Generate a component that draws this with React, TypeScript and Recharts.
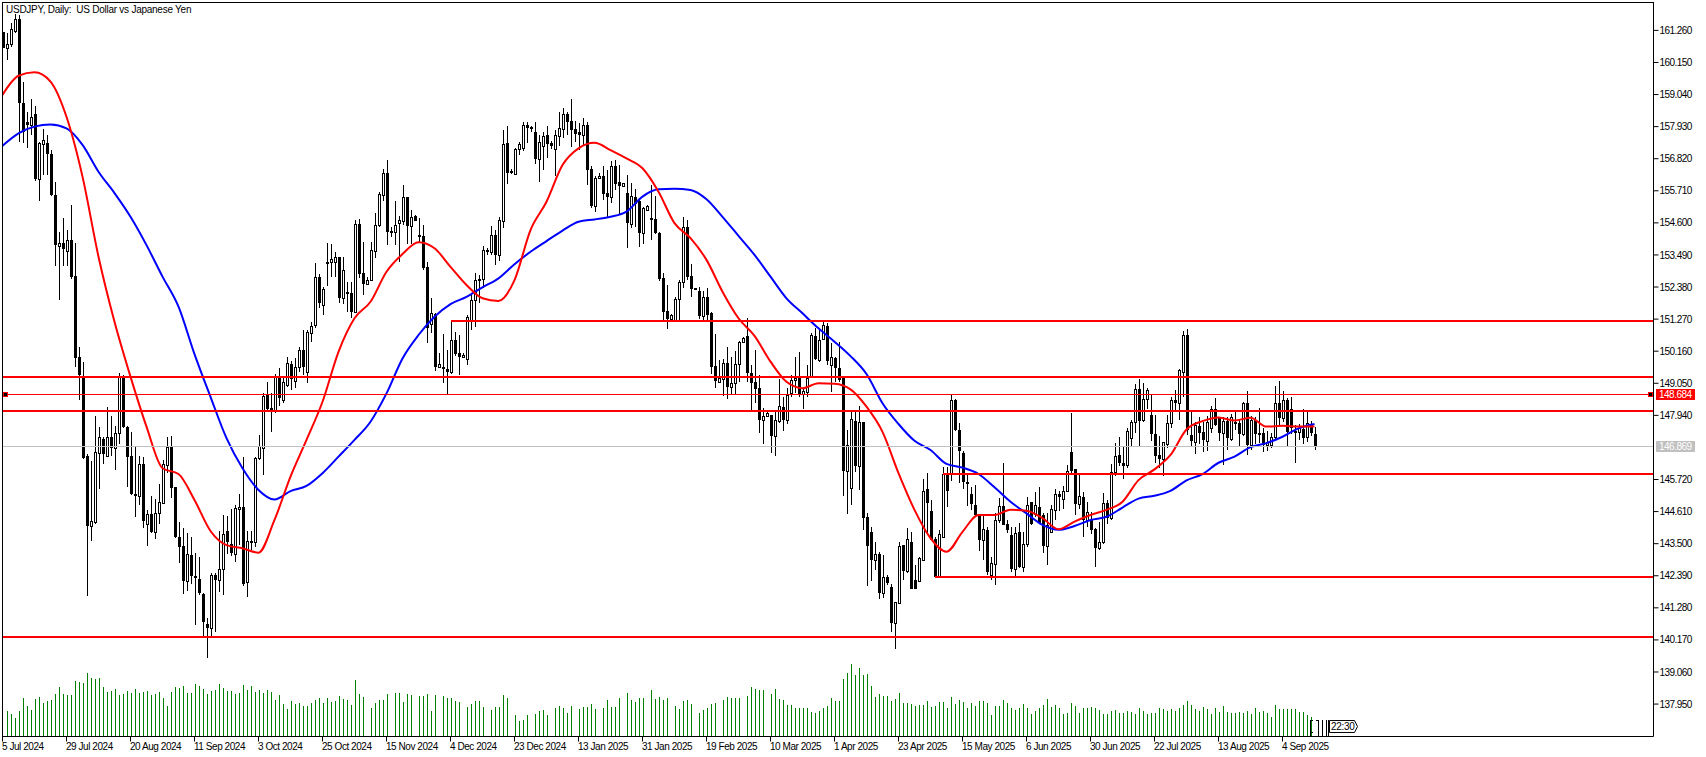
import { Bar, ComposedChart, Line, ReferenceLine, XAxis, YAxis } from "recharts";

const tickLabels = [
  "5 Jul 2024", "29 Jul 2024", "20 Aug 2024", "11 Sep 2024", "3 Oct 2024", "25 Oct 2024", "15 Nov 2024",
  "4 Dec 2024", "23 Dec 2024", "13 Jan 2025", "31 Jan 2025", "19 Feb 2025", "10 Mar 2025", "1 Apr 2025",
  "23 Apr 2025", "15 May 2025", "6 Jun 2025", "30 Jun 2025", "22 Jul 2025", "13 Aug 2025", "4 Sep 2025",
];
const BARS_PER_LABEL = 16;
const SLOTS = 413; // chart leaves room on the right of the last candle

const priceTicks = [
  161.26, 160.15, 159.04, 157.93, 156.82, 155.71, 154.6, 153.49, 152.38, 151.27, 150.16, 149.05, 147.94,
  145.72, 144.61, 143.5, 142.39, 141.28, 140.17, 139.06, 137.95,
];

const opens = [
  161.19,160.66,160.78,161.25,161.64,158.74,158.09,157.99,158.36,156.13,
  157.34,157.35,157.00,155.55,153.81,153.89,153.64,154.01,152.76,149.95,
  149.30,146.53,144.12,144.26,146.65,147.11,146.55,147.18,146.80,147.32,
  149.25,147.55,146.52,145.22,145.14,146.24,144.17,144.53,143.89,144.57,
  144.90,146.23,146.83,145.45,143.72,143.42,142.22,143.11,142.38,142.27,
  141.75,140.72,140.57,142.40,142.24,142.61,143.94,143.48,143.14,144.71,
  144.76,142.18,143.58,143.55,146.45,146.81,148.68,148.18,148.13,149.25,
  148.47,148.99,149.70,149.14,149.62,150.20,149.45,150.80,151.05,152.72,
  151.76,153.20,153.26,153.26,153.41,152.01,152.22,152.16,151.53,154.56,
  152.85,152.49,152.62,153.64,154.54,155.57,156.34,154.33,154.30,154.58,
  154.68,155.48,154.50,154.84,154.18,154.15,153.09,151.10,151.44,149.62,
  149.60,149.53,149.44,150.55,150.09,149.95,149.90,151.24,151.93,152.65,
  152.66,153.65,153.60,154.18,153.49,154.68,157.35,156.38,156.29,157.16,
  157.20,157.99,157.90,157.73,156.81,157.27,157.64,157.35,157.16,157.62,
  157.86,158.37,158.13,157.84,157.74,157.64,157.99,156.46,155.18,156.14,
  156.22,155.62,155.51,156.57,156.00,155.88,155.62,154.57,155.51,155.37,
  154.26,155.05,154.76,154.72,154.26,152.68,151.55,151.26,151.22,151.95,
  152.57,154.44,152.76,152.33,152.25,151.38,152.02,151.47,149.65,149.10,
  149.19,149.74,148.93,149.05,149.71,150.49,150.69,149.42,149.08,148.87,
  147.78,147.93,147.95,147.24,147.76,148.22,147.78,148.73,149.16,149.24,
  148.68,148.76,149.30,150.68,149.85,150.57,151.03,149.68,149.91,149.57,
  149.26,146.03,145.42,147.75,146.19,147.70,144.41,143.91,142.94,143.14,
  141.78,142.34,142.01,140.77,141.46,143.46,142.57,143.55,142.24,142.21,
  142.94,145.39,144.63,143.67,142.39,143.74,145.90,145.90,148.47,147.43,
  146.63,145.63,145.21,144.84,144.49,143.63,143.97,142.42,142.80,144.32,
  144.80,144.18,143.79,142.64,143.89,142.71,143.48,144.93,144.52,144.78,
  144.49,143.43,143.92,144.67,145.21,145.06,145.33,146.66,146.08,144.87,
  145.13,144.32,144.32,144.01,143.36,143.57,144.92,144.38,145.99,146.57,
  146.30,146.22,147.15,147.72,148.84,147.78,148.52,147.95,147.29,146.57,
  146.44,146.95,147.66,148.47,148.38,149.45,150.71,147.26,147.03,147.57,
  147.36,147.06,147.49,148.15,147.84,147.32,147.76,147.13,147.72,147.66,
  147.29,148.36,146.91,147.78,147.33,147.32,146.91,146.91,147.18,148.36,
  147.84,148.46,148.15,147.40,147.38,147.46,147.20,147.60,147.28,
];

const highs = [
  161.22,161.16,161.53,161.83,161.79,159.46,158.43,158.87,158.64,157.41,
  157.86,157.64,157.12,156.01,154.30,154.76,154.35,155.22,153.89,150.32,
  149.77,146.60,146.36,147.92,147.55,147.18,148.22,147.92,147.57,149.42,
  149.34,147.57,147.35,146.88,146.53,146.49,144.67,145.16,145.05,145.56,
  146.40,147.18,147.23,145.47,144.25,144.03,143.86,143.72,143.17,143.03,
  141.78,140.92,142.47,142.47,143.95,144.49,144.46,144.69,144.84,145.22,
  146.51,143.93,143.93,146.51,147.26,148.70,149.10,148.70,149.37,149.57,
  149.24,149.97,149.83,149.91,150.32,150.89,150.89,151.18,153.20,152.83,
  152.39,153.89,153.87,153.60,153.43,153.41,152.57,152.54,154.70,154.73,
  153.95,152.74,153.95,154.93,155.68,156.45,156.78,154.47,155.36,154.84,
  155.90,155.51,155.05,154.87,154.76,154.53,153.24,152.00,151.47,150.09,
  150.75,150.20,151.22,150.84,150.72,150.09,151.41,152.16,152.88,152.80,
  153.80,153.72,154.49,154.35,154.79,157.81,157.95,156.45,157.18,157.41,
  158.08,158.08,157.96,158.08,157.64,157.73,157.95,157.43,157.81,158.42,
  158.59,158.45,158.89,158.13,158.04,158.24,158.10,156.57,156.22,156.31,
  156.57,156.43,156.75,156.78,156.60,155.99,156.26,155.97,155.77,155.39,
  155.16,155.22,155.91,155.54,154.30,152.88,152.45,151.43,152.05,152.62,
  154.81,154.70,153.17,152.33,152.39,152.24,152.33,151.53,150.75,149.85,
  149.88,150.32,149.97,150.18,150.52,150.66,151.30,149.68,150.20,149.34,
  148.18,148.12,147.95,148.07,149.19,148.59,148.88,149.34,149.97,150.14,
  148.88,149.68,150.78,150.95,150.89,151.18,151.15,150.43,149.97,150.49,
  149.26,147.43,148.12,148.12,148.28,147.72,144.57,144.07,143.57,143.22,
  143.11,142.42,142.11,141.49,143.57,143.46,144.03,143.89,142.76,143.03,
  145.73,145.93,145.01,143.74,143.97,146.17,146.17,148.64,148.50,147.66,
  146.71,145.93,145.45,145.53,144.53,144.52,144.09,143.05,144.55,145.07,
  146.28,144.32,144.09,144.09,144.23,143.92,145.13,144.95,145.30,145.45,
  144.55,144.55,144.84,145.38,145.33,145.50,146.22,148.01,146.08,145.88,
  145.30,144.95,144.61,144.03,144.26,145.24,145.01,146.25,146.97,147.18,
  146.86,147.49,147.78,149.02,149.19,149.07,148.87,148.68,147.95,147.23,
  147.03,147.95,148.56,148.82,149.53,150.86,150.93,148.07,147.72,147.87,
  147.72,147.92,148.26,148.53,147.90,147.87,147.87,147.99,148.07,147.78,
  148.41,148.78,147.92,147.87,148.18,147.49,147.41,147.32,148.96,149.13,
  148.78,148.53,148.56,147.60,147.64,148.16,148.07,147.76,147.55,
];

const lows = [
  160.66,160.24,160.70,161.18,157.41,157.35,157.18,157.64,156.06,155.37,
  156.26,156.26,155.53,153.09,151.93,153.09,153.09,152.65,149.60,148.47,
  146.40,141.67,143.60,144.18,145.41,146.26,146.51,146.53,146.05,146.95,
  147.52,145.47,145.16,144.43,144.84,144.03,143.42,143.89,143.66,144.18,
  144.87,145.93,145.09,143.70,142.84,141.76,141.84,142.10,140.69,141.70,
  140.28,139.55,140.28,140.42,141.84,141.72,143.14,143.07,142.88,143.45,
  142.03,141.64,143.28,143.40,146.40,145.88,148.13,147.34,148.01,148.24,
  148.38,148.93,148.84,148.87,149.45,149.34,149.07,150.49,150.95,151.64,
  151.41,152.39,152.74,152.74,151.84,151.79,151.53,151.30,151.47,152.68,
  152.10,152.45,152.59,153.37,154.47,155.33,153.84,154.12,153.84,153.26,
  154.50,153.89,153.86,154.68,153.89,152.97,150.44,150.79,149.45,149.57,
  149.07,148.64,149.39,150.02,149.34,149.91,149.68,150.87,151.01,151.82,
  152.34,153.49,153.47,153.14,153.28,154.41,155.95,156.29,156.26,156.95,
  157.09,157.35,157.76,156.64,156.03,156.43,156.83,157.16,156.23,157.24,
  157.56,157.64,157.24,157.41,157.12,157.29,155.91,155.10,154.99,156.10,
  155.39,154.79,155.30,155.74,154.87,155.85,153.72,154.41,154.47,153.78,
  153.89,155.02,154.01,154.24,152.62,151.22,150.92,151.22,151.22,151.22,
  152.34,152.62,152.02,152.25,151.30,151.24,151.22,149.39,148.87,149.10,
  148.59,148.53,148.64,148.70,149.10,150.47,149.10,148.12,148.36,147.32,
  146.95,147.89,146.63,146.54,147.66,147.41,147.64,148.59,148.73,148.59,
  148.16,148.56,149.22,149.85,149.80,150.55,149.68,148.73,149.11,149.11,
  145.15,144.53,144.82,145.96,145.36,143.97,142.05,142.19,142.59,141.61,
  141.61,142.07,140.46,139.86,141.41,142.24,142.47,141.92,141.94,142.15,
  142.88,143.86,143.63,142.34,142.36,143.70,144.80,145.67,147.38,145.59,
  145.39,144.78,144.64,144.44,143.26,142.94,142.42,142.24,142.07,144.20,
  144.15,143.86,142.53,142.38,142.67,142.53,143.40,144.15,144.44,144.17,
  143.17,142.76,143.92,144.32,144.64,144.69,145.30,145.93,144.49,144.69,
  143.74,144.09,143.86,142.67,143.30,143.46,144.18,144.32,145.82,146.17,
  145.74,146.11,146.89,147.32,146.88,147.72,148.15,147.06,146.28,146.11,
  145.85,146.80,147.49,148.12,147.78,148.59,147.26,146.86,146.63,146.95,
  146.68,146.72,147.34,147.57,147.06,146.20,146.72,147.05,147.43,146.86,
  147.23,146.57,146.74,146.95,146.97,146.65,146.72,146.80,147.11,147.60,
  147.72,146.82,147.29,146.30,147.09,146.95,147.03,147.23,146.74,
];

const closes = [
  160.66,160.78,161.30,161.64,158.76,157.76,158.00,158.27,156.13,157.35,
  157.46,156.98,155.55,153.84,153.89,153.69,154.01,152.74,149.94,149.35,
  146.45,144.11,144.27,146.67,147.18,146.59,147.18,146.80,147.32,149.25,
  147.55,146.51,145.22,145.20,146.24,144.30,144.52,143.92,144.55,144.93,
  146.24,146.83,145.44,143.72,143.40,142.22,143.13,142.38,142.34,141.78,
  140.80,140.59,142.40,142.24,142.61,143.82,143.55,143.19,144.72,144.78,
  142.10,143.60,143.53,146.45,146.89,148.61,148.16,148.13,149.25,148.55,
  149.08,149.74,149.19,149.60,150.20,149.62,150.81,151.04,152.74,151.82,
  152.30,153.26,153.34,153.41,152.01,152.97,152.15,151.53,154.56,152.83,
  152.49,152.62,153.66,154.54,155.60,156.34,154.30,154.29,154.54,154.70,
  155.48,154.50,154.82,154.68,154.12,153.03,150.96,151.48,149.62,149.70,
  149.53,149.45,150.55,150.06,149.95,150.03,151.33,151.93,152.62,152.60,
  153.66,153.60,154.18,153.49,154.70,157.33,156.34,156.34,157.16,157.32,
  157.99,157.89,157.87,156.81,157.39,157.62,157.32,157.26,157.64,157.87,
  158.36,158.10,157.81,157.68,157.64,157.99,156.43,155.18,156.14,156.22,
  155.60,155.50,156.57,155.94,155.88,155.97,154.58,155.53,155.25,154.26,
  155.10,155.18,154.71,154.26,152.66,151.53,151.26,151.41,151.95,152.57,
  154.47,152.72,152.32,152.28,151.38,152.02,151.42,149.63,149.14,149.24,
  149.74,148.93,149.07,149.72,150.49,150.60,149.39,149.07,148.86,147.78,
  147.93,148.01,147.24,147.78,148.26,147.78,148.64,149.16,149.22,148.64,
  148.78,149.22,150.72,149.89,150.55,151.07,149.82,149.95,149.57,149.16,
  146.03,146.91,147.80,146.19,147.70,144.40,143.43,142.94,143.14,141.80,
  142.34,142.13,140.77,141.47,143.43,142.57,143.65,141.94,141.94,142.99,
  145.32,144.92,143.63,142.36,143.82,145.90,145.33,148.47,147.43,146.72,
  145.62,145.60,144.86,144.49,143.63,144.00,142.51,142.82,144.32,144.80,
  144.16,143.97,142.64,143.88,142.71,143.48,144.84,144.18,144.84,144.20,
  143.43,144.15,144.69,145.21,145.10,145.33,146.03,146.03,144.87,145.16,
  144.32,144.61,143.97,143.36,143.57,144.90,144.40,145.99,146.55,146.30,
  146.20,147.41,147.70,148.84,147.76,148.49,148.80,147.29,146.55,146.44,
  147.01,147.66,148.46,148.38,149.51,150.71,147.43,147.05,147.61,147.34,
  147.09,147.70,148.15,147.61,147.34,147.76,147.16,147.87,147.64,147.29,
  148.36,146.91,147.78,147.29,147.29,146.91,147.03,147.18,148.36,147.84,
  148.46,147.38,147.49,147.36,147.49,147.14,147.66,147.34,146.87,
];

// tick volume, no scale on the picture so the unit is arbitrary
const volumes = [
  null,26,23,19,26,39,31,27,38,40,
  34,36,37,43,50,43,42,42,56,55,
  54,64,59,58,59,50,45,46,48,42,
  43,46,44,48,44,45,46,42,43,45,
  39,31,45,50,49,51,44,44,53,51,
  48,43,46,47,53,49,46,46,43,44,
  52,47,51,45,47,44,47,45,37,42,
  33,28,36,33,34,31,31,34,37,39,
  34,39,35,36,41,38,37,32,57,43,
  40,null,29,34,37,37,43,null,44,44,
  35,43,42,null,41,41,43,26,42,1,
  41,39,39,36,35,null,30,33,36,36,
  30,null,27,30,30,42,39,null,22,16,
  17,22,null,23,26,27,22,null,29,31,
  29,24,31,null,28,30,30,33,28,null,
  29,37,30,30,39,null,44,37,35,39,
  39,1,47,38,40,37,39,null,31,28,
  36,37,33,null,24,27,29,33,34,null,
  37,40,39,39,39,null,41,50,48,47,
  47,null,43,48,38,37,32,32,29,29,
  29,29,25,24,26,29,31,39,36,36,
  58,64,73,62,69,62,63,51,40,43,
  41,41,36,38,44,34,34,33,31,32,
  32,36,30,31,35,35,29,40,33,37,
  35,29,34,31,36,36,34,22,31,31,
  37,34,29,27,29,33,29,23,26,29,
  32,38,30,32,29,23,24,34,31,24,
  29,29,30,29,27,23,23,26,27,24,
  24,26,25,23,29,26,23,24,24,29,
  28,26,28,26,29,32,36,32,28,26,
  30,28,23,29,25,31,25,24,24,25,
  24,26,23,29,25,26,24,20,32,28,
  28,28,28,28,25,25,22,20,null,
];

// moving averages, read every 4th bar
const MA_STEP = 4;
const maFast = [
  159.03,159.69,159.81,159.49,158.27,156.20,153.43,151.18,149.28,147.55,146.11,145.91,145.01,143.94,143.45,143.34,
  143.19,144.32,145.82,147.09,148.41,150.14,151.30,151.87,152.91,153.52,153.93,153.72,153.08,152.45,151.99,151.90,
  152.62,154.35,155.33,156.60,157.18,157.37,157.12,156.83,156.49,155.68,154.59,154.07,153.32,152.22,151.30,150.69,
  149.80,149.10,148.88,149.05,149.03,148.84,148.24,147.37,145.94,144.67,143.69,143.22,143.91,144.49,144.49,144.67,
  144.64,144.38,144.00,144.26,144.49,144.67,144.95,145.70,146.07,146.57,147.45,147.74,147.87,147.76,147.86,147.55,
  147.58,147.55,147.55,
];
const maSlow = [
  157.27,157.70,157.93,158.00,157.87,157.30,156.37,155.63,154.81,153.83,152.74,151.70,150.06,148.58,147.15,146.11,
  145.36,145.03,145.32,145.50,145.94,146.51,147.09,147.72,148.70,149.91,150.72,151.35,151.79,152.04,152.37,152.68,
  153.17,153.60,153.97,154.33,154.64,154.72,154.81,154.99,155.51,155.76,155.78,155.74,155.42,154.81,154.15,153.49,
  152.74,151.99,151.47,150.95,150.49,149.99,149.37,148.36,147.64,147.06,146.74,146.26,146.13,145.91,145.45,144.95,
  144.55,144.15,143.98,144.11,144.32,144.43,144.75,145.06,145.16,145.33,145.69,145.91,146.30,146.51,146.84,146.98,
  147.20,147.49,147.64,
];

const fullLevels = [149.28, 148.1, 140.28];
const partialLevels = [
  { price: 151.21, from: 112 },
  { price: 145.92, from: 235 },
  { price: 142.36, from: 233 },
];
const BID = 148.684;
const LAST = 146.869;

const tableRows = Array.from({ length: SLOTS }, (_, i) => ({
  idx: i,
  open: opens[i] ?? null,
  high: highs[i] ?? null,
  low: lows[i] ?? null,
  close: closes[i] ?? null,
  range: highs[i] != null ? [lows[i], highs[i]] : null,
  volume: volumes[i] ?? null,
  fast: i % MA_STEP === 0 ? maFast[i / MA_STEP] ?? null : null,
  slow: i % MA_STEP === 0 ? maSlow[i / MA_STEP] ?? null : null,
}));

const labelIdx = tickLabels.map((_, k) => k * BARS_PER_LABEL);
const FONT = "'Liberation Sans', Arial, sans-serif";
const PLOT_LEFT = 2;
const PLOT_RIGHT = 1653;

function Candle(props: any) {
  const { x, y, height, payload } = props;
  if (!payload || payload.high == null) return null;
  const cx = Math.round(x);
  const k = height / (payload.high - payload.low);
  const top = Math.round(y + (payload.high - Math.max(payload.open, payload.close)) * k);
  const bottom = Math.round(y + (payload.high - Math.min(payload.open, payload.close)) * k);
  const up = payload.close >= payload.open;
  return (
    <g shapeRendering="crispEdges">
      <rect x={cx} y={Math.round(y)} width={1} height={Math.max(1, Math.round(height))} fill="#000" />
      {up ? (
        <rect x={cx - 0.5} y={top + 0.5} width={2} height={Math.max(1, bottom - top)} fill="#fff" stroke="#000" />
      ) : (
        <rect x={cx - 1} y={top} width={3} height={Math.max(2, bottom - top)} fill="#000" />
      )}
    </g>
  );
}

function VolumeBar(props: any) {
  const { x, y, height } = props;
  if (!height) return null;
  return <rect x={Math.round(x)} y={y} width={1} height={height} fill="#008000" shapeRendering="crispEdges" />;
}

function DateTick(props: any) {
  const { x, y, payload } = props;
  return (
    <text x={x - 0.5} y={y + 8} textAnchor="start" fontSize={10} letterSpacing={-0.45} fontFamily={FONT} fill="#000">
      {tickLabels[payload.value / BARS_PER_LABEL]}
    </text>
  );
}

function PriceTag({ viewY, text, fill }: any) {
  return (
    <g>
      <rect x={1656} y={viewY - 5.5} width={39} height={11} fill={fill} />
      <text x={1659} y={viewY + 3.5} fontSize={10} letterSpacing={-0.5} fontFamily={FONT} fill="#fff">
        {text}
      </text>
    </g>
  );
}

function BidLine(props: any) {
  const y = Math.round(props.y1 ?? props.y) + 0.5;
  return (
    <g shapeRendering="crispEdges">
      <line x1={PLOT_LEFT} x2={PLOT_RIGHT} y1={y} y2={y} stroke="#ff0000" />
      <rect x={3.5} y={y - 2} width={4} height={4} fill="#000" stroke="#ff0000" />
      <rect x={1648.5} y={y - 2} width={4} height={4} fill="#000" stroke="#ff0000" />
      <PriceTag viewY={y} text={BID.toFixed(3)} fill="#ff0000" />
    </g>
  );
}

function LastLine(props: any) {
  const y = Math.round(props.y1 ?? props.y) + 0.5;
  return (
    <g shapeRendering="crispEdges">
      <line x1={PLOT_LEFT} x2={PLOT_RIGHT} y1={y} y2={y} stroke="#c0c0c0" />
      <PriceTag viewY={y} text={LAST.toFixed(3)} fill="#c0c0c0" />
    </g>
  );
}

function LevelLine(props: any) {
  const y = Math.round(props.y1);
  return <rect x={props.x1} y={y - 1} width={PLOT_RIGHT - props.x1} height={2} fill="#ff0000" shapeRendering="crispEdges" />;
}

function Frame() {
  return (
    <svg width={1706} height={757} style={{ position: "absolute", left: 0, top: 0, pointerEvents: "none" }}>
      <g shapeRendering="crispEdges">
        <rect x={0} y={0} width={2} height={737} fill="#fff" />
        <rect x={2} y={2} width={1} height={735} fill="#000" />
        <rect x={2} y={2} width={1652} height={1} fill="#000" />
        <rect x={1310} y={720} width={1} height={16} fill="#000" />
        <rect x={1310} y={720} width={3} height={1} fill="#000" />
        <rect x={1310} y={732} width={3} height={1} fill="#000" />
        <rect x={1316} y={720} width={3} height={1} fill="#000" />
        <rect x={1318} y={720} width={1} height={16} fill="#000" />
        <rect x={1322} y={720} width={1} height={16} fill="#000" />
        <rect x={1326} y={720} width={1} height={16} fill="#000" />
        <rect x={1328} y={720} width={1} height={16} fill="#000" />
      </g>
      <path d="M1329.5 720.5H1354.5L1357.5 726.5L1354.5 732.5H1329.5Z" fill="#fff" stroke="#000" />
      <text x={1331} y={730} fontSize={10} letterSpacing={-0.3} fontFamily={FONT} fill="#000">
        22:30
      </text>
    </svg>
  );
}

export default function App() {
  return (
    <div style={{ position: "absolute", left: 0, top: 0, width: 1706, height: 757, background: "#fff" }}>
      <ComposedChart
        width={1706}
        height={757}
        data={tableRows}
        margin={{ top: 2.5, right: 0, bottom: 0, left: 0.5 }}
        barCategoryGap={0}
      >
        <XAxis
          dataKey="idx"
          ticks={labelIdx}
          interval={0}
          height={20.5}
          tickSize={5}
          tickMargin={0}
          padding={{ left: 0, right: 1 }}
          tick={<DateTick />}
          axisLine={{ stroke: "#000" }}
          tickLine={{ stroke: "#000" }}
        />
        {/* own x axis so the volume bars are not grouped beside the candles */}
        <XAxis xAxisId="vol" dataKey="idx" height={20.5} padding={{ left: 0, right: 1 }} hide />
        <YAxis
          yAxisId="price"
          orientation="right"
          type="number"
          domain={[136.828, 162.225]}
          allowDataOverflow
          ticks={priceTicks}
          interval={0}
          width={52.5}
          tickSize={5}
          tickMargin={1}
          tickFormatter={(v: number) => v.toFixed(3)}
          tick={{ fontSize: 10, letterSpacing: -0.55, fontFamily: FONT, fill: "#000" }}
          axisLine={{ stroke: "#000" }}
          tickLine={{ stroke: "#000" }}
        />
        <YAxis yAxisId="vol" type="number" domain={[0, 734]} hide />
        <Bar xAxisId="vol" yAxisId="vol" dataKey="volume" barSize={1} shape={<VolumeBar />} isAnimationActive={false} />
        <Bar yAxisId="price" dataKey="range" barSize={1} shape={<Candle />} isAnimationActive={false} />
        <Line yAxisId="price" dataKey="slow" type="monotone" connectNulls stroke="#0000ff" strokeWidth={2} dot={false} isAnimationActive={false} />
        <Line yAxisId="price" dataKey="fast" type="monotone" connectNulls stroke="#ff0000" strokeWidth={2} dot={false} isAnimationActive={false} />
        <ReferenceLine
          yAxisId="price"
          segment={[
            { x: 0, y: LAST },
            { x: SLOTS - 1, y: LAST },
          ]}
          shape={<LastLine />}
        />
        <ReferenceLine
          yAxisId="price"
          segment={[
            { x: 0, y: BID },
            { x: SLOTS - 1, y: BID },
          ]}
          shape={<BidLine />}
        />
        {fullLevels.map((p) => (
          <ReferenceLine
            key={p}
            yAxisId="price"
            segment={[
              { x: 0, y: p },
              { x: SLOTS - 1, y: p },
            ]}
            shape={<LevelLine />}
          />
        ))}
        {partialLevels.map((l) => (
          <ReferenceLine
            key={l.price}
            yAxisId="price"
            segment={[
              { x: l.from, y: l.price },
              { x: SLOTS - 1, y: l.price },
            ]}
            shape={<LevelLine />}
          />
        ))}
      </ComposedChart>
      <Frame />
      <div
        style={{
          position: "absolute",
          left: 6,
          top: 3,
          fontFamily: FONT,
          fontSize: 10,
          letterSpacing: -0.25,
          lineHeight: "14px",
          whiteSpace: "pre",
          color: "#000",
        }}
      >
        {"USDJPY, Daily:  US Dollar vs Japanese Yen"}
      </div>
    </div>
  );
}
